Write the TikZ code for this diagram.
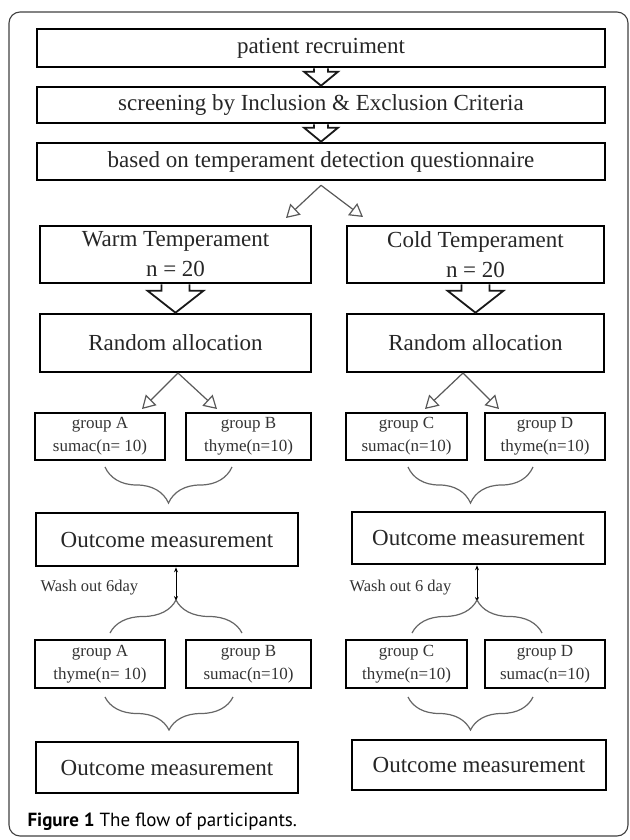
\documentclass[tikz,border=0pt]{standalone}
\usepackage{fontspec}
\setmainfont{Liberation Serif}
\newfontfamily\capfont{PT Sans}
\usetikzlibrary{arrows.meta}
\usetikzlibrary{decorations.pathreplacing, calc}

\tikzset{
  bigbox/.style={draw, line width=2.6pt, inner sep=0pt, align=center, text=black!85,
    font=\fontsize{23}{30}\selectfont},
  grpbox/.style={draw, line width=2.6pt, inner sep=0pt, align=center, text=black!80,
    font=\fontsize{17}{23}\selectfont},
  splitarr/.style={draw=black!65, line width=1.2pt,
    -{Triangle[open, length=13pt, width=15pt, line width=1.2pt]}},
  blockarr/.style={draw=black!90, line width=1.8pt, fill=white, line join=miter},
  brc/.style={decorate, decoration={brace, amplitude=#1}, draw=black!60, line width=1.2pt},
  washarr/.style={{Stealth[length=5pt, width=4pt]}-{Stealth[length=5pt, width=4pt]}, line width=1pt},
  washtxt/.style={anchor=west, text=black!80, font=\fontsize{16.5}{20}\selectfont}
}

% hollow block arrow: from, to, shaft half width, head half width, head length
\newcommand\blockarrow[5]{%
  \draw[blockarr] let \p1=#1, \p2=#2 in
    (\x1-#3,\y1) -- (\x1-#3,\y2+#5) -- (\x1-#4,\y2+#5) -- (\x1,\y2)
    -- (\x1+#4,\y2+#5) -- (\x1+#3,\y2+#5) -- (\x1+#3,\y1);}

\begin{document}
\begin{tikzpicture}[x=1pt,y=1pt]
\useasboundingbox (0,0) rectangle (629,-840);
\draw[rounded corners=11pt, draw=black!75, line width=1.1pt] (9,-12) rectangle (628,-836);

% screening steps
\node[bigbox, minimum width=568pt, minimum height=38pt] (recruit) at (321,-48) {patient recruiment};
\node[bigbox, minimum width=568pt, minimum height=36pt] (screen) at (321,-105) {screening by Inclusion \& Exclusion Criteria};
\node[bigbox, minimum width=568pt, minimum height=37pt] (quest) at (321,-161.5) {based on temperament detection questionnaire};
\blockarrow{(recruit.south)}{(screen.north)}{7pt}{17pt}{14pt}
\blockarrow{(screen.south)}{(quest.north)}{7pt}{17pt}{14pt}

% temperament
\node[bigbox, minimum width=271pt, minimum height=57pt] (warm) at (175.5,-254.5) {Warm Temperament\\n = 20};
\node[bigbox, minimum width=257pt, minimum height=57pt] (cold) at (475.5,-254.5) {Cold Temperament\\n = 20};
\coordinate (qsplit) at ($(quest.south)+(0,-4)$);
\coordinate (toWarm) at (286,-218);
\coordinate (toCold) at (363,-217);
\draw[splitarr] (qsplit) -- (toWarm);
\draw[splitarr] (qsplit) -- (toCold);

% random allocation
\node[bigbox, minimum width=271pt, minimum height=58pt] (randW) at (175.5,-343) {Random allocation};
\node[bigbox, minimum width=257pt, minimum height=58pt] (randC) at (475.5,-343) {Random allocation};
\blockarrow{(warm.south)}{(randW.north)}{14pt}{28pt}{22pt}
\blockarrow{(cold.south)}{(randC.north)}{14pt}{28pt}{22pt}

% first period
\node[grpbox, minimum width=130pt, minimum height=47pt] (gA1) at (100,-436.5) {group A\\sumac(n= 10)};
\node[grpbox, minimum width=125pt, minimum height=47pt] (gB1) at (248.5,-436.5) {group B\\thyme(n=10)};
\node[grpbox, minimum width=121pt, minimum height=47pt] (gC1) at (406.5,-436.5) {group C\\sumac(n=10)};
\node[grpbox, minimum width=120pt, minimum height=47pt] (gD1) at (545,-436.5) {group D\\thyme(n=10)};
\coordinate (splitW) at (178,-373);
\coordinate (splitC) at (463,-373);
\coordinate (toA1) at (142,-409);
\coordinate (toB1) at (217,-409);
\coordinate (toC1) at (425,-409);
\coordinate (toD1) at (499,-409);
\draw[splitarr] (splitW) -- (toA1);
\draw[splitarr] (splitW) -- (toB1);
\draw[splitarr] (splitC) -- (toC1);
\draw[splitarr] (splitC) -- (toD1);

\draw[brc=36pt] (232,-467) -- (105,-467);
\draw[brc=36pt] (533,-467) -- (408,-467);

\node[bigbox, minimum width=262pt, minimum height=53pt] (omW1) at (167,-539.5) {Outcome measurement};
\node[bigbox, minimum width=253pt, minimum height=52pt] (omC1) at (478.5,-538) {Outcome measurement};

% wash out
\coordinate (tipW) at (176,-601);
\coordinate (tipC) at (477,-602);
\draw[washarr] (omW1.south -| tipW) -- (tipW);
\draw[washarr] (omC1.south -| tipC) -- (tipC);
\node[washtxt] (washW) at (37,-588) {Wash out 6day};
\node[washtxt] (washC) at (346,-588) {Wash out 6 day};
\draw[brc=33pt] (110,-633) -- (242,-633);
\draw[brc=33pt] (412,-633) -- (542,-633);

% second period
\node[grpbox, minimum width=130pt, minimum height=48pt] (gA2) at (100,-664) {group A\\thyme(n= 10)};
\node[grpbox, minimum width=125pt, minimum height=48pt] (gB2) at (248.5,-664) {group B\\sumac(n=10)};
\node[grpbox, minimum width=121pt, minimum height=48pt] (gC2) at (406.5,-664) {group C\\thyme(n=10)};
\node[grpbox, minimum width=120pt, minimum height=48pt] (gD2) at (545,-664) {group D\\sumac(n=10)};

\draw[brc=33pt] (233,-697) -- (105,-697);
\draw[brc=33pt] (533,-697) -- (408,-697);

\node[bigbox, minimum width=262pt, minimum height=51pt] (omW2) at (167,-767.5) {Outcome measurement};
\node[bigbox, minimum width=254pt, minimum height=50pt] (omC2) at (479,-765) {Outcome measurement};

\node[anchor=west, font=\capfont\fontsize{19}{22}\selectfont] (caption) at (24,-822) {\textbf{Figure 1} The flow of participants.};
\end{tikzpicture}
\end{document}
